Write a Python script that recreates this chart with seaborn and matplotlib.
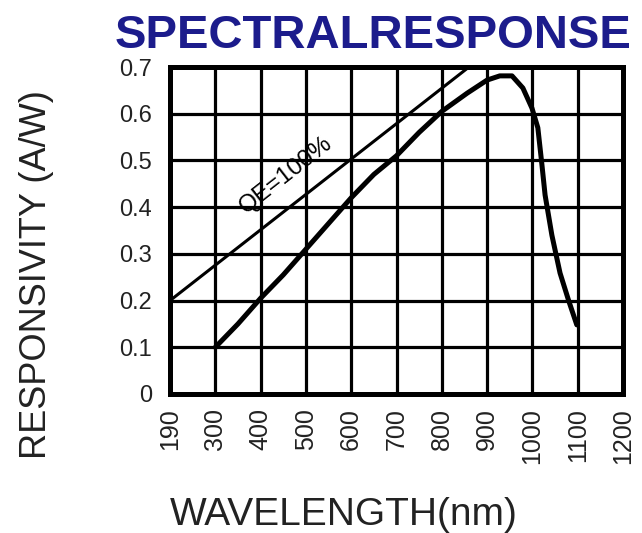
import matplotlib
matplotlib.use("Agg")
import matplotlib.pyplot as plt
import seaborn as sns
import pandas as pd

# data
wavelength = [300, 350, 400, 450, 500, 550, 600, 650, 700, 750, 800, 856, 900, 928, 955, 979, 999, 1012, 1021, 1028, 1043, 1061, 1080, 1098]
responsivity = [0.10, 0.15, 0.205, 0.255, 0.31, 0.365, 0.42, 0.47, 0.51, 0.56, 0.605, 0.644, 0.672, 0.681, 0.681, 0.655, 0.612, 0.57, 0.491, 0.426, 0.34, 0.259, 0.2, 0.148]
qe_wavelength = [200, 860]
qe_resp = [0.2, 0.7]
x_tick_pos = [200, 300, 400, 500, 600, 700, 800, 900, 1000, 1100, 1200]
x_tick_labels = ["190", "300", "400", "500", "600", "700", "800", "900", "1000", "1100", "1200"]
y_ticks = [0, 0.1, 0.2, 0.3, 0.4, 0.5, 0.6, 0.7]
y_tick_labels = ["0", "0.1", "0.2", "0.3", "0.4", "0.5", "0.6", "0.7"]

sns.set_style("white")
plt.rcParams['font.family'] = ['Liberation Sans', 'DejaVu Sans']

fig = plt.figure(figsize=(6.42, 5.33), dpi=100)
ax = fig.add_axes([170/642, 1-394/533, (623-170)/642, (394-67)/533])

df = pd.DataFrame({"w": wavelength, "r": responsivity})
dq = pd.DataFrame({"w": qe_wavelength, "r": qe_resp})
sns.lineplot(data=dq, x="w", y="r", ax=ax, color="black", lw=2.2, zorder=3)
sns.lineplot(data=df, x="w", y="r", ax=ax, color="black", lw=3.6, zorder=4)

ax.set_xlim(200, 1200)
ax.set_ylim(0, 0.7)
ax.set_xticks(x_tick_pos)
ax.set_xticklabels(x_tick_labels, rotation=90, fontsize=18, color="#222222")
ax.set_yticks(y_ticks)
ax.set_yticklabels(y_tick_labels, fontsize=17, color="#222222")
ax.tick_params(axis="x", length=0, pad=10)
ax.tick_params(axis="y", length=0, pad=13)
ax.grid(True, color="black", lw=2.3)
ax.set_axisbelow(True)
for s in ax.spines.values():
    s.set_visible(True)
    s.set_color("black")
    s.set_linewidth(3.6)
ax.set_xlabel("")
ax.set_ylabel("")

ax.text(455, 0.468, "QE=100%", rotation=38, fontsize=17.5, ha="center", va="center", color="black", zorder=5)

fig.text(373/642, 1-48/533, "SPECTRALRESPONSE", fontsize=34, fontweight="bold", color="#1c1c8c", ha="center", va="baseline")
fig.text(37/642, 1-275/533, "RESPONSIVITY (A/W)", fontsize=26, rotation=90, ha="center", va="center", color="#222222")
fig.text(344/642, 1-515/533, "WAVELENGTH(nm)", fontsize=28, ha="center", va="center", color="#222222")

fig.savefig("out.png", dpi=100)
